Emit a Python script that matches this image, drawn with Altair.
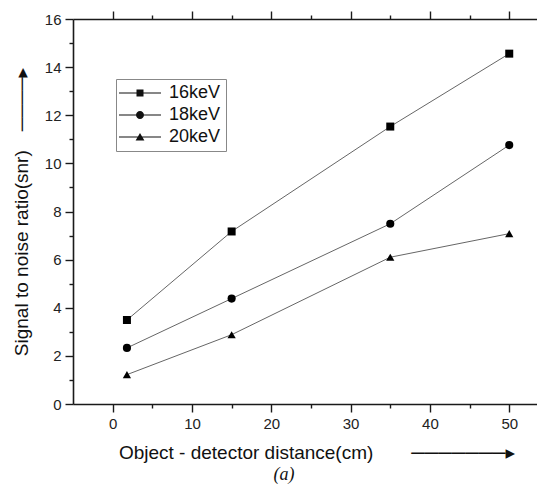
import altair as alt
import pandas as pd

# ---- data ----
distance = [1.8, 15, 35, 50]
snr_16kev = [3.49, 7.17, 11.53, 14.56]
snr_18kev = [2.33, 4.38, 7.49, 10.76]
snr_20kev = [1.22, 2.88, 6.10, 7.08]
series_names = ["16keV", "18keV", "20keV"]
x_ticks = [0, 5, 10, 15, 20, 25, 30, 35, 40, 45, 50]
y_ticks = list(range(0, 17))

rows = []
for name, vals in zip(series_names, [snr_16kev, snr_18kev, snr_20kev]):
    for d, v in zip(distance, vals):
        rows.append({"distance": d, "snr": v, "series": name, "legend_key": name})
df = pd.DataFrame(rows)

FONT = "Liberation Sans, Arial, DejaVu Sans"
AXIS_COLOR = "#1a1a1a"

x_scale = alt.Scale(domain=[-5, 53.5], nice=False, zero=False)
y_scale = alt.Scale(domain=[0, 16], nice=False, zero=False)

x_title = "Object - detector distance(cm)\u2003\u2003" + "\u2500" * 7 + "\u25B8"
y_title = "Signal to noise ratio(snr)\u2003" + "\u2500" * 4 + "\u25B8"

common_axis = dict(
    grid=False,
    domainColor=AXIS_COLOR,
    domainWidth=1.6,
    tickColor=AXIS_COLOR,
    tickWidth=1.4,
    labelFont=FONT,
    labelFontSize=15,
    labelColor="#222",
    titleFont=FONT,
    titleFontSize=19,
    titleFontWeight="normal",
    titleColor="#111",
)

x_axis_bottom = alt.Axis(
    orient="bottom",
    values=x_ticks,
    tickSize={"condition": {"test": "datum.value % 10 === 0", "value": 8}, "value": 4},
    labelExpr="datum.value % 10 === 0 ? datum.label : ''",
    labelPadding=4,
    title=x_title,
    titleX=243.5,
    titleY=48,
    titleBaseline="middle",
    titleAnchor="middle",
    **common_axis,
)

x_axis_top = alt.Axis(
    orient="top",
    values=x_ticks,
    tickSize={"condition": {"test": "datum.value % 10 === 0", "value": 8}, "value": 4},
    labels=False,
    title=None,
    **common_axis,
)

y_axis = alt.Axis(
    orient="left",
    values=y_ticks,
    tickSize={"condition": {"test": "datum.value % 2 === 0", "value": 8}, "value": 4},
    labelExpr="datum.value % 2 === 0 ? datum.label : ''",
    labelPadding=4,
    title=y_title,
    titleX=-52,
    titleY=192.5,
    titleAngle=-90,
    titleBaseline="middle",
    titleAlign="center",
    **common_axis,
)

lines = alt.Chart(df).mark_line(color="#666", strokeWidth=1).encode(
    x=alt.X("distance:Q", scale=x_scale, axis=x_axis_bottom),
    y=alt.Y("snr:Q", scale=y_scale, axis=y_axis),
    detail="series:N",
)

points = alt.Chart(df).mark_point(filled=True, color="#000", opacity=1).encode(
    x=alt.X("distance:Q", scale=x_scale, axis=x_axis_top),
    y=alt.Y("snr:Q", scale=y_scale, axis=y_axis),
    shape=alt.Shape(
        "series:N",
        scale=alt.Scale(domain=series_names, range=["square", "circle", "triangle-up"]),
        legend=None,
    ),
    size=alt.Size(
        "series:N",
        scale=alt.Scale(domain=series_names, range=[64, 68, 110]),
        legend=None,
    ),
)

# legend glyphs: a thin filled bar (the line) plus the marker
BAR = "M-5.25,-0.12H5.25V0.12H-5.25Z"
legend_paths = [
    BAR + "M-0.875,-0.875H0.875V0.875H-0.875Z",
    BAR + "M1,0A1,1,0,1,1,-1,0A1,1,0,1,1,1,0Z",
    BAR + "M0,-1L1.1,0.9L-1.1,0.9Z",
]

legend_layer = alt.Chart(df).transform_filter("false").mark_point(
    filled=True, color="#111", size=64, opacity=1
).encode(
    shape=alt.Shape(
        "legend_key:N",
        scale=alt.Scale(domain=series_names, range=legend_paths),
        legend=alt.Legend(
            title=None,
            orient="none",
            legendX=43,
            legendY=60,
            labelFont=FONT,
            labelFontSize=18,
            labelColor="#111",
            labelLimit=300,
            labelOffset=20,
            symbolOffset=10,
            symbolSize=64,
            symbolFillColor="#111",
            symbolOpacity=1,
            rowPadding=4,
            padding=5,
            strokeColor="#888",
            fillColor="#fff",
        ),
    ),
)

chart = (
    alt.layer(lines, points, legend_layer)
    .resolve_scale(shape="independent")
    .resolve_axis(x="independent")
    .properties(
        width=464,
        height=385,
        autosize=alt.AutoSizeParams(type="none"),
        padding={"left": 65, "top": 11, "right": 0, "bottom": 80},
        title=alt.Title(
            "(a)",
            orient="bottom",
            font="Liberation Serif, Times New Roman, serif",
            fontStyle="italic",
            fontSize=18,
            fontWeight="normal",
            color="#111",
            dx=-21,
            offset=4,
        ),
    )
    .configure_view(strokeWidth=0)
)

chart.save("out.html", embed_options={"renderer": "svg", "actions": False})
